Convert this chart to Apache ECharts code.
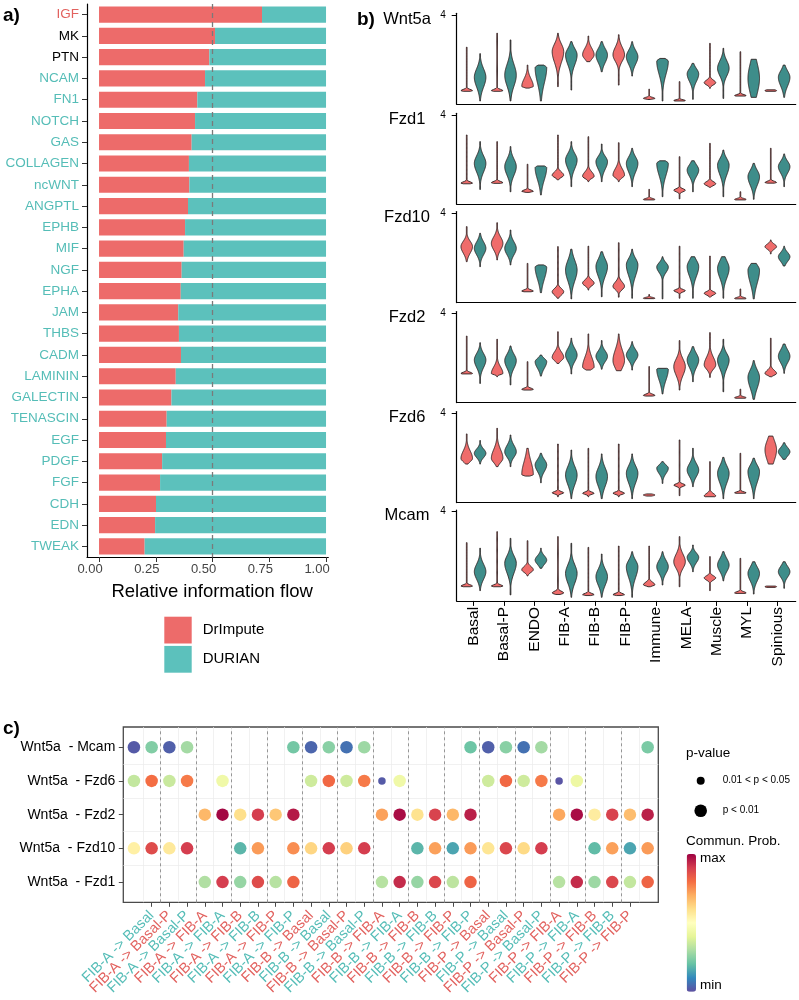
<!DOCTYPE html>
<html><head><meta charset="utf-8">
<script src="https://cdn.jsdelivr.net/npm/echarts@6/dist/echarts.min.js"></script>
<style>html,body{margin:0;padding:0;background:#fff}#c{width:799px;height:1000px}</style>
</head><body><div id="c"></div>
<script>
// ---------------- DATA ----------------
// Panel a: relative information flow (DrImpute share; DURIAN is the remainder)
const pathways = ['IGF','MK','PTN','NCAM','FN1','NOTCH','GAS','COLLAGEN','ncWNT','ANGPTL','EPHB','MIF','NGF','EPHA','JAM','THBS','CADM','LAMININ','GALECTIN','TENASCIN','EGF','PDGF','FGF','CDH','EDN','TWEAK'];
const drimputeFlow = [0.718,0.511,0.486,0.467,0.433,0.423,0.408,0.396,0.398,0.392,0.379,0.373,0.364,0.360,0.349,0.352,0.361,0.338,0.319,0.298,0.295,0.278,0.269,0.251,0.247,0.201];
const durianFlow = drimputeFlow.map(v => +(1 - v).toFixed(3));
// enrichment group of each pathway label: dr = DrImpute, du = DURIAN, ns = none
const pathwayEnriched = ['dr','ns','ns','du','du','du','du','du','du','du','du','du','du','du','du','du','du','du','du','du','du','du','du','du','du','du'];
const flowTicks = [0, 0.25, 0.5, 0.75, 1];
const methods = ['DrImpute','DURIAN'];

// Panel b: violins, per cell type [DrImpute, DURIAN]; each = [lo, hi, mode, spreadBelow, spreadAbove]
const cellTypes = ['Basal','Basal-P','ENDO','FIB-A','FIB-B','FIB-P','Immune','MELA','Muscle','MYL','Spinious'];
const genes = ['Wnt5a','Fzd1','Fzd10','Fzd2','Fzd6','Mcam'];
const violinWnt5a = [
 [0.45,2.5,0.48,0.03,0.06],[0.0,2.2,1.1,0.45,0.4],
 [0.45,3.15,0.48,0.03,0.06],[0.0,2.84,1.2,0.5,0.5],
 [0.6,1.67,0.68,0.05,0.35],[0.0,1.67,1.55,0.7,0.1],
 [0.67,3.15,2.3,0.5,0.35],[0.51,2.76,2.14,0.45,0.3],
 [1.83,3.02,2.15,0.2,0.3],[1.36,2.76,2.14,0.35,0.3],
 [0.74,3.08,2.15,0.3,0.35],[1.16,2.76,2.06,0.35,0.3],
 [0.07,0.55,0.12,0.03,0.05],[0.0,1.98,1.85,0.6,0.1],
 [0.0,0.9,0.02,0.03,0.04],[0.08,1.75,1.26,0.35,0.25],
 [0.59,2.68,0.85,0.1,0.12],[0.12,2.45,1.52,0.35,0.35],
 [0.23,2.29,0.25,0.03,0.05],[0.17,1.94,1.05,0.7,0.7],
 [0.45,0.52,0.48,0.05,0.05],[0.17,1.67,1.1,0.4,0.3]];
const violinFzd1 = [
 [0.8,3.07,0.83,0.03,0.06],[0.54,2.76,1.75,0.4,0.35],
 [0.82,2.76,0.85,0.03,0.06],[0.43,2.53,1.6,0.4,0.35],
 [0.4,1.71,0.45,0.03,0.06],[0.28,1.63,1.55,0.55,0.08],
 [0.98,3.07,1.2,0.1,0.15],[0.67,2.76,1.91,0.4,0.3],
 [0.9,2.99,1.15,0.1,0.2],[0.9,2.65,1.83,0.35,0.25],
 [0.9,2.71,1.2,0.12,0.3],[0.67,2.45,1.75,0.4,0.3],
 [0.05,0.54,0.07,0.03,0.05],[0.2,1.87,1.75,0.55,0.1],
 [0.1,2.06,0.5,0.07,0.07],[0.43,1.87,1.44,0.3,0.25],
 [0.64,2.68,0.8,0.08,0.1],[0.2,2.37,1.67,0.45,0.3],
 [0.05,0.43,0.07,0.03,0.05],[0.08,1.75,1.13,0.4,0.3],
 [0.83,2.45,0.86,0.03,0.06],[0.67,2.19,1.6,0.3,0.25]];
const violinFzd10 = [
 [1.75,3.38,2.45,0.3,0.25],[1.52,3.07,2.37,0.3,0.3],
 [1.83,3.56,2.6,0.3,0.3],[1.6,3.22,2.37,0.3,0.3],
 [0.35,1.67,0.38,0.03,0.06],[0.31,1.6,1.5,0.55,0.08],
 [0.05,2.45,0.35,0.15,0.15],[0.02,2.33,1.36,0.5,0.45],
 [0.43,2.47,0.75,0.12,0.15],[0.12,2.21,1.52,0.45,0.35],
 [0.1,2.63,0.6,0.15,0.2],[0.05,2.33,1.6,0.5,0.3],
 [0.03,0.22,0.05,0.03,0.04],[0.02,1.98,1.5,0.25,0.2],
 [0.05,2.47,0.4,0.06,0.06],[0.05,1.98,1.52,0.45,0.3],
 [0.1,2.01,0.28,0.08,0.08],[0.05,1.98,1.44,0.45,0.35],
 [0.02,0.48,0.04,0.03,0.05],[0.02,1.67,1.35,0.6,0.25],
 [2.11,2.76,2.45,0.12,0.12],[1.55,2.47,1.98,0.22,0.2]];
const violinFzd2 = [
 [1.18,2.94,1.2,0.03,0.06],[0.74,2.63,1.83,0.35,0.3],
 [1.05,2.79,1.2,0.05,0.3],[0.67,2.48,1.8,0.35,0.3],
 [0.43,1.75,0.46,0.03,0.06],[1.08,2.06,1.75,0.3,0.15],
 [1.67,3.14,1.95,0.15,0.25],[1.18,2.84,2.06,0.3,0.3],
 [1.36,3.04,1.5,0.1,0.45],[1.4,2.73,2.0,0.25,0.25],
 [1.33,3.04,1.8,0.35,0.5],[1.36,2.68,2.06,0.25,0.25],
 [0.15,1.52,0.18,0.03,0.06],[0.25,1.44,1.4,0.5,0.05],
 [0.43,2.73,1.52,0.4,0.35],[0.82,2.45,1.83,0.35,0.3],
 [1.02,3.1,1.6,0.2,0.35],[0.35,2.79,1.83,0.4,0.3],
 [0.05,0.47,0.07,0.03,0.05],[0.0,1.8,1.02,0.5,0.35],
 [1.05,2.84,1.2,0.08,0.15],[1.21,2.57,2.0,0.3,0.3]];
const violinFzd6 = [
 [1.64,3.04,1.9,0.15,0.35],[1.64,2.73,2.14,0.2,0.2],
 [1.52,3.3,1.91,0.2,0.4],[1.52,2.99,2.21,0.25,0.3],
 [1.08,2.37,1.15,0.05,0.6],[0.77,2.14,1.6,0.3,0.25],
 [0.12,2.57,0.3,0.05,0.06],[0.03,2.29,1.13,0.45,0.4],
 [0.12,2.37,0.28,0.05,0.06],[0.03,2.11,1.06,0.45,0.4],
 [0.12,2.57,0.28,0.05,0.06],[0.03,2.11,1.21,0.45,0.35],
 [0.15,0.25,0.2,0.04,0.04],[0.74,1.75,1.45,0.25,0.15],
 [0.17,2.76,0.66,0.06,0.06],[0.59,2.37,1.36,0.3,0.3],
 [0.12,1.75,0.15,0.05,0.12],[0.03,1.95,1.21,0.45,0.35],
 [0.28,2.14,0.3,0.03,0.05],[0.03,1.91,1.29,0.5,0.3],
 [1.64,2.94,2.3,0.5,0.45],[1.86,2.63,2.21,0.2,0.2]];
const violinMcam = [
 [0.51,2.56,0.54,0.03,0.06],[0.33,2.3,1.21,0.35,0.35],
 [0.51,3.07,0.54,0.03,0.06],[0.13,2.76,1.6,0.45,0.35],
 [1.01,2.65,1.3,0.12,0.15],[1.37,2.3,1.75,0.2,0.2],
 [0.15,2.84,0.22,0.05,0.08],[0.02,2.53,1.13,0.45,0.4],
 [0.1,2.34,0.14,0.03,0.06],[0.02,2.03,0.98,0.4,0.35],
 [0.1,2.4,0.14,0.03,0.06],[0.02,2.14,1.44,0.5,0.3],
 [0.51,2.4,0.6,0.05,0.12],[0.59,2.14,1.44,0.3,0.3],
 [0.51,2.84,1.67,0.3,0.35],[1.21,2.45,1.88,0.25,0.2],
 [0.33,1.91,0.92,0.1,0.1],[0.78,2.14,1.52,0.3,0.3],
 [0.2,1.83,0.22,0.03,0.06],[0.17,1.67,1.13,0.35,0.3],
 [0.48,0.54,0.51,0.04,0.04],[0.44,1.67,1.21,0.25,0.25]];
const violinsByGene = [violinWnt5a, violinFzd1, violinFzd10, violinFzd2, violinFzd6, violinMcam];
const exprTicks = [4];

// Panel c: communication probability (relative, min..max) per source->target column
const senders = ['FIB-A','FIB-B','FIB-P'];
const receivers = ['Basal','Basal-P','FIB-A','FIB-B','FIB-P'];
const interactions = ['Wnt5a  - Fzd1','Wnt5a  - Fzd10','Wnt5a  - Fzd2','Wnt5a  - Fzd6','Wnt5a  - Mcam'];
const probFzd1  = [null,null,null,null,0.31,0.90,0.27,0.87,0.32,0.82, null,null,null,null,0.32,0.93,0.27,0.88,0.33,0.82, null,null,null,null,0.32,0.93,0.28,0.88,0.34,0.82];
const probFzd10 = [0.55,0.87,0.57,0.90,null,null,0.18,0.73,null,0.75, 0.62,0.90,0.63,0.90,null,null,0.18,0.72,0.15,0.73, 0.58,0.88,0.61,0.90,null,null,0.19,0.72,0.15,0.73];
const probFzd2  = [null,null,null,null,0.68,0.99,0.60,0.90,0.65,0.96, null,null,null,null,0.72,0.98,0.59,0.89,0.68,0.95, null,null,null,null,0.71,0.98,0.56,0.89,0.67,0.95];
const probFzd6  = [0.34,0.80,0.35,0.78,null,0.44,null,null,null,null, 0.36,0.81,0.36,0.78,0.02,0.44,null,null,null,null, 0.36,0.81,0.36,0.78,0.01,0.43,null,null,null,null];
const probMcam  = [0.02,0.24,0.03,0.29,null,null,null,null,null,0.22, 0.04,0.25,0.06,0.28,null,null,null,null,null,0.21, 0.03,0.25,0.06,0.29,null,null,null,null,null,0.23];
const probByInteraction = [probFzd1, probFzd10, probFzd2, probFzd6, probMcam];
// p-value class: 1 = p < 0.01, 2 = 0.01 < p < 0.05
const pFzd1  = probFzd1.map(() => 1);
const pFzd10 = probFzd10.map(() => 1);
const pFzd2  = probFzd2.map(() => 1);
const pFzd6  = [1,1,1,1,1,1,1,1,1,1, 1,1,1,1,2,1,1,1,1,1, 1,1,1,1,2,1,1,1,1,1];
const pMcam  = probMcam.map(() => 1);
const pClassByInteraction = [pFzd1, pFzd10, pFzd2, pFzd6, pMcam];
const pLegend = ['0.01 < p < 0.05', 'p < 0.01'];

// ---------------- STYLE ----------------
const FONT = '"Liberation Sans", Arial, Helvetica, sans-serif';
const RED = '#ED6B6A', TEAL = '#5CC1BC';
const RED_T = '#E2625F', TEAL_T = '#55BDB7';
const V_RED = '#EF6C6B', V_TEAL = '#3E8D8A', V_LINE = '#2E2222';
const SPECTRAL = ['#5E4FA2','#3288BD','#66C2A5','#ABDDA4','#E6F598','#FFFFBF','#FEE08B','#FDAE61','#F46D43','#D53E4F','#9E0142'];

// ---------------- BUILD ----------------
const pairLabels = [], pairMethod = [];
senders.forEach(s => receivers.forEach(r => methods.forEach((m, mi) => { pairLabels.push(s + ' -> ' + r); pairMethod.push(mi); })));
const pairPos = pairLabels.map((_, i) => i + 1);
const cellPos = cellTypes.map((_, i) => i + 1);
const rowPos = interactions.map((_, i) => i + 1);

const grids = [], xAxes = [], yAxes = [], series = [];
const axisLineBlack = {show: true, onZero: false, lineStyle: {color: '#000', width: 1.2}};

// panel a
grids.push({left: 87, top: 4, width: 241.3, height: 553});
xAxes.push({gridIndex: 0, type: 'value', min: -0.053, max: 1.01,
  axisLine: axisLineBlack,
  axisTick: {show: true, customValues: flowTicks, length: 5, lineStyle: {color: '#333'}},
  axisLabel: {customValues: flowTicks, formatter: v => (+v).toFixed(2), fontSize: 13, color: '#444', fontFamily: FONT, margin: 6,
    padding: [0, 18, 0, 0]},
  splitLine: {show: false},
  name: 'Relative information flow', nameLocation: 'middle', nameGap: 25,
  nameTextStyle: {fontSize: 18.5, color: '#000', fontFamily: FONT, padding: [0, 0, 0, 9]}});
yAxes.push({gridIndex: 0, type: 'category', data: pathways, inverse: true,
  axisLine: axisLineBlack,
  axisTick: {show: true, alignWithLabel: true, interval: 0, length: 5, lineStyle: {color: '#333'}},
  axisLabel: {interval: 0, margin: 8, fontSize: 13.5, fontFamily: FONT,
    formatter: (v, i) => '{' + pathwayEnriched[i] + '|' + v + '}',
    rich: {dr: {color: RED_T, fontSize: 13.5, fontFamily: FONT}, du: {color: TEAL_T, fontSize: 13.5, fontFamily: FONT}, ns: {color: '#000', fontSize: 13.5, fontFamily: FONT}}},
  splitLine: {show: false}});
series.push({type: 'bar', name: methods[0], xAxisIndex: 0, yAxisIndex: 0, stack: 'flow', data: drimputeFlow,
  itemStyle: {color: RED}, barCategoryGap: '24%', silent: true});
series.push({type: 'bar', name: methods[1], xAxisIndex: 0, yAxisIndex: 0, stack: 'flow', data: durianFlow,
  itemStyle: {color: TEAL}, barCategoryGap: '24%', silent: true,
  markLine: {silent: true, symbol: 'none', label: {show: false},
    lineStyle: {type: [5, 4], color: '#7a7a7a', width: 1.3}, data: [{xAxis: 0.5}]}});

// panel b
const facetTick4 = [15, 115, 213.3, 313.3, 413.3, 511.7];
const PXU = 21.5, YMIN = -0.15, YMAX = 4.08;
const DODGE = 0.22, VHALF = 0.19, MINW = 0.06;
function renderViolin(params, api) {
  const m = api.value(1);
  const x = api.value(0) + (m === 0 ? -DODGE : DODGE);
  const lo = api.value(2), hi = api.value(3), pk = api.value(4);
  const sd = Math.max(api.value(5), 0.01), su = Math.max(api.value(6), 0.01);
  const halfW = api.size([VHALF, 0])[0];
  const N = 60, right = [], left = [];
  const ys = [];
  for (let k = 0; k <= N; k++) ys.push(lo + (hi - lo) * k / N);
  if (pk > lo && pk < hi) { ys.push(pk); ys.sort((a, b) => a - b); }
  ys.forEach(y => {
    const s = y < pk ? sd : su;
    const w = Math.max(Math.exp(-0.5 * Math.pow((y - pk) / s, 2)), MINW);
    const c = api.coord([x, y]);
    right.push([c[0] + w * halfW, c[1]]);
    left.unshift([c[0] - w * halfW, c[1]]);
  });
  return {type: 'polygon', shape: {points: right.concat(left)},
    style: {fill: m === 0 ? V_RED : V_TEAL, stroke: V_LINE, lineWidth: 0.9}};
}
genes.forEach((g, gi) => {
  const idx = 1 + gi;
  const last = gi === genes.length - 1;
  grids.push({left: 456.7, top: facetTick4[gi] - (YMAX - 4) * PXU, width: 339, height: (YMAX - YMIN) * PXU});
  xAxes.push({gridIndex: idx, type: 'value', min: 0.45, max: 11.6,
    axisLine: axisLineBlack,
    axisTick: {show: last, customValues: cellPos, length: 5, lineStyle: {color: '#000'}},
    axisLabel: {show: last, customValues: cellPos, formatter: v => cellTypes[Math.round(v) - 1], rotate: 90,
      fontSize: 15.5, color: '#000', margin: 6, fontFamily: FONT},
    splitLine: {show: false}});
  yAxes.push({gridIndex: idx, type: 'value', min: YMIN, max: YMAX,
    axisLine: axisLineBlack,
    axisTick: {show: true, customValues: exprTicks, length: 5, lineStyle: {color: '#000'}},
    axisLabel: {customValues: exprTicks, fontSize: 10, color: '#000', margin: 11, fontFamily: FONT},
    splitLine: {show: false}});
  series.push({type: 'custom', xAxisIndex: idx, yAxisIndex: idx, renderItem: renderViolin, silent: true,
    data: violinsByGene[gi].map((v, k) => [Math.floor(k / 2) + 1, k % 2].concat(v))});
});

// panel c
const CI = 7;
grids.push({left: 123.3, top: 727, width: 535, height: 175.3, show: true, borderColor: '#4a4a4a', borderWidth: 1.3, backgroundColor: 'rgba(0,0,0,0)'});
xAxes.push({gridIndex: CI, type: 'value', min: 0.4, max: 30.6,
  axisLine: {show: false, onZero: false},
  axisTick: {show: true, customValues: pairPos, length: 4.5, lineStyle: {color: '#4a4a4a'}},
  axisLabel: {customValues: pairPos, rotate: 45, margin: 11,
    formatter: v => '{m' + pairMethod[Math.round(v) - 1] + '|' + pairLabels[Math.round(v) - 1] + '}',
    rich: {m0: {color: RED_T, fontSize: 14.5, fontFamily: FONT}, m1: {color: TEAL_T, fontSize: 14.5, fontFamily: FONT}}},
  splitLine: {show: false}});
yAxes.push({gridIndex: CI, type: 'value', min: 0.4, max: 5.6,
  axisLine: {show: false, onZero: false},
  axisTick: {show: true, customValues: rowPos, length: 4.5, lineStyle: {color: '#4a4a4a'}},
  axisLabel: {customValues: rowPos, formatter: v => interactions[Math.round(v) - 1], fontSize: 14, color: '#000', margin: 8, fontFamily: FONT},
  splitLine: {show: false}});
const faintV = pairPos.slice(0, -1).map(p => ({xAxis: p + 0.5, lineStyle: {color: '#ebebeb', width: 0.7, type: 'solid'}}));
const faintH = rowPos.slice(0, -1).map(p => ({yAxis: p + 0.5, lineStyle: {color: '#ebebeb', width: 0.7, type: 'solid'}}));
const groupV = pairPos.filter(p => p % 2 === 0 && p < pairPos.length).map(p => ({xAxis: p + 0.5, lineStyle: {color: '#8c8c8c', width: 0.9, type: [3, 3]}}));
series.push({type: 'scatter', xAxisIndex: CI, yAxisIndex: CI, data: [], silent: true, z: 1,
  markLine: {silent: true, symbol: 'none', label: {show: false}, animation: false, data: faintV.concat(faintH, groupV)}});
const dots = [];
interactions.forEach((name, ri) => probByInteraction[ri].forEach((p, ci) => {
  if (p !== null) dots.push([ci + 1, ri + 1, p, pClassByInteraction[ri][ci]]);
}));
const dotSeriesIndex = series.length;
series.push({type: 'scatter', xAxisIndex: CI, yAxisIndex: CI, data: dots, z: 5, silent: true,
  symbolSize: v => v[3] === 2 ? 7.5 : 12.5, itemStyle: {opacity: 1}});

const txt = (x, y, text, size, opts) => Object.assign({type: 'text', x, y, silent: true,
  style: Object.assign({text, fontSize: size, fontFamily: FONT, fill: '#000', align: 'left', verticalAlign: 'middle'}, opts || {})});
const graphics = [
  txt(3, 16, 'a)', 19, {fontWeight: 'bold'}),
  txt(357, 20, 'b)', 19, {fontWeight: 'bold'}),
  txt(3, 729, 'c)', 19, {fontWeight: 'bold'}),
  txt(686, 753, 'p-value', 13.5),
  {type: 'circle', shape: {cx: 700.7, cy: 780.7, r: 4}, style: {fill: '#000'}, silent: true},
  txt(722.7, 780.7, pLegend[0], 10),
  {type: 'circle', shape: {cx: 700.7, cy: 810.7, r: 6.3}, style: {fill: '#000'}, silent: true},
  txt(722.7, 810.7, pLegend[1], 10),
  txt(686, 841.7, 'Commun. Prob.', 13.5),
  txt(700, 858, 'max', 13.5),
  txt(700, 985, 'min', 13.5)
];
genes.forEach((g, gi) => graphics.push(txt(407, facetTick4[gi] + 4, g, 16.5, {align: 'center'})));

const chart = echarts.init(document.getElementById('c'), null, {renderer: 'canvas'});
chart.setOption({
  animation: false,
  backgroundColor: '#fff',
  textStyle: {fontFamily: FONT},
  grid: grids, xAxis: xAxes, yAxis: yAxes, series,
  legend: {data: methods, orient: 'vertical', left: 164.3, top: 616.7, itemWidth: 27.4, itemHeight: 26.8, itemGap: 2.4,
    icon: 'rect', padding: 0, selectedMode: false,
    textStyle: {fontSize: 15, fontFamily: FONT, color: '#000', padding: [0, 0, 0, 6]}},
  visualMap: {type: 'continuous', seriesIndex: dotSeriesIndex, dimension: 2, min: 0, max: 1,
    inRange: {color: SPECTRAL}, orient: 'vertical', left: 686.7, top: 854, itemWidth: 9.3, itemHeight: 137.7,
    calculable: false, hoverLink: false, padding: 0, text: null},
  graphic: graphics
});
</script>
</body></html>
